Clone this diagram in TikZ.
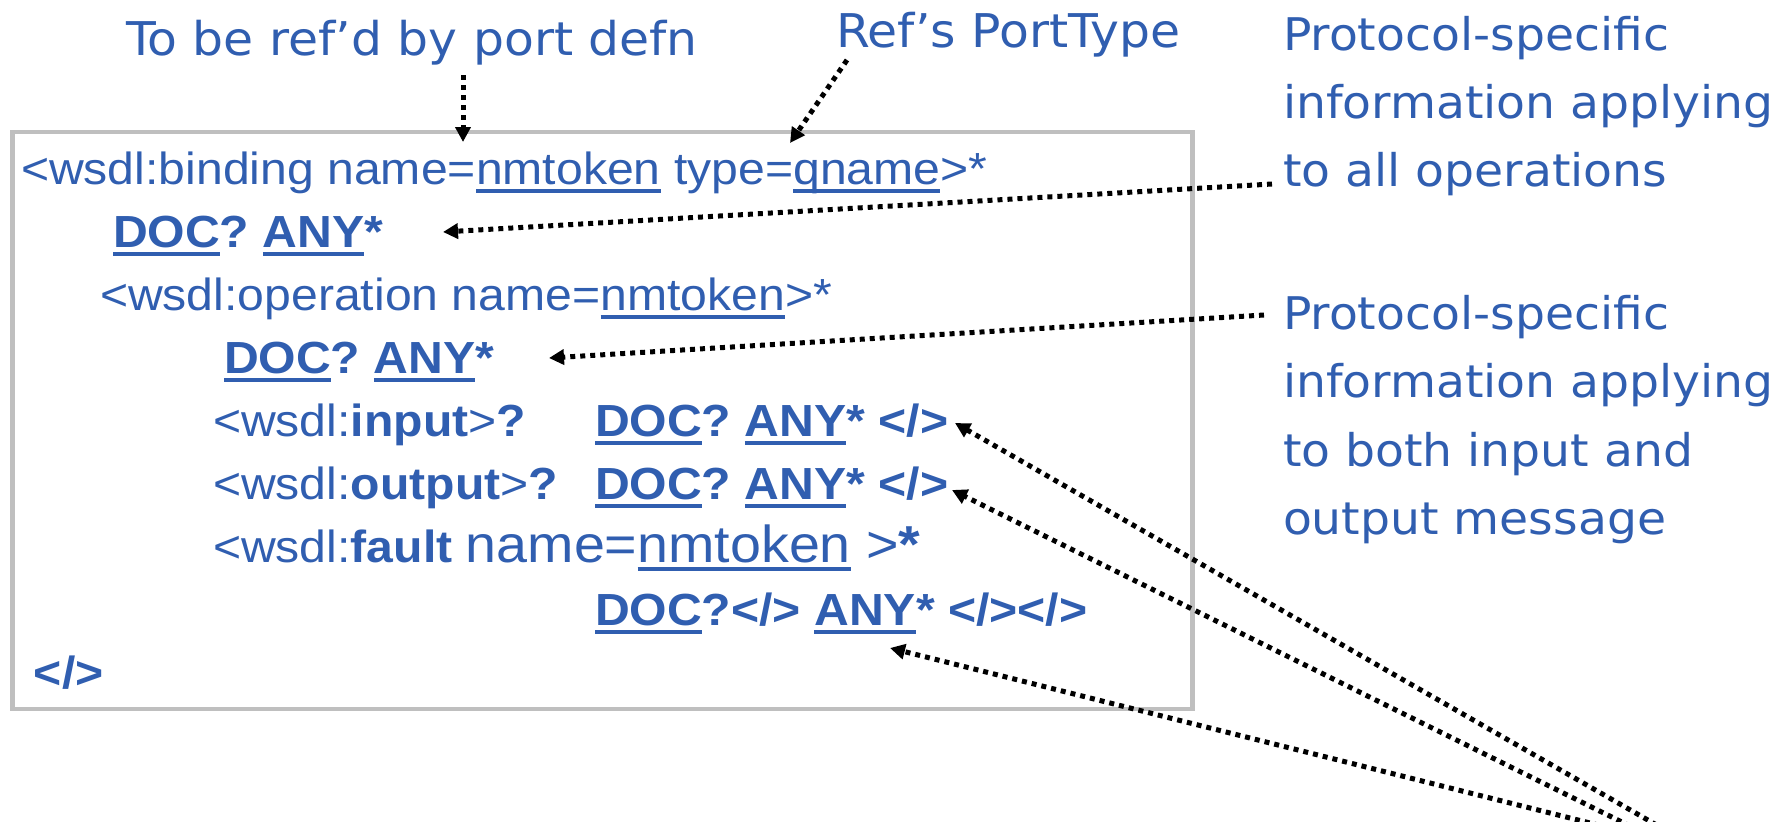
\documentclass[tikz,border=0pt]{standalone}
\usepackage{fontspec}
\setmainfont[FakeStretch=1.07]{Liberation Sans}
\newfontfamily\annfont[FakeStretch=1.05]{DejaVu Sans}
\usetikzlibrary{arrows.meta}
\definecolor{txtblue}{RGB}{48,94,176}
\definecolor{boxgray}{RGB}{191,191,191}
\newcommand\ulx[1]{\setbox0=\hbox{#1}\rlap{\rule[-9pt]{\wd0}{3.6pt}}\box0\relax}
\frenchspacing
\begin{document}
\begin{tikzpicture}[x=1pt,y=-1pt,
  code/.style={anchor=base west,inner sep=0pt,outer sep=0pt,text=txtblue,font=\fontsize{45}{54}\selectfont},
  ann/.style={anchor=base west,inner sep=0pt,outer sep=0pt,text=txtblue,font=\annfont\fontsize{45}{54}\selectfont},
  toplabel/.style={ann,font=\annfont\fontsize{46.5}{54}\selectfont},
  dotarrow/.style={draw=black,line width=5pt,dash pattern=on 5pt off 5pt,-{Triangle[length=15pt,width=15pt]}},
]
\useasboundingbox (0,0) rectangle (1789,822);
% frame
\node[draw=boxgray,line width=4.5pt,inner sep=0pt,outer sep=0pt,minimum width=1180pt,minimum height=577pt,anchor=north west] (box) at (12.5,132) {};
% code lines
\node[code] (l1) at (21,184) {<wsdl:binding name=\ulx{nmtoken} type=\ulx{qname}>*};
\node[code] (l2) at (113,247) {\bfseries\ulx{DOC}? \ulx{ANY}*};
\node[code] (l3) at (100,310) {<wsdl:operation name=\ulx{nmtoken}>*};
\node[code] (l4) at (224,373) {\bfseries\ulx{DOC}? \ulx{ANY}*};
\node[code] (l5) at (213,436) {<wsdl:\textbf{input}>\textbf{?}};
\node[code] (l5b) at (595,436) {\bfseries\ulx{DOC}? \ulx{ANY}* </>};
\node[code] (l6) at (213,499) {<wsdl:\textbf{output}>\textbf{?}};
\node[code] (l6b) at (595,499) {\bfseries\ulx{DOC}? \ulx{ANY}* </>};
\node[code] (l7) at (213,562) {<wsdl:\textbf{fault} {\fontsize{52}{54}\selectfont name=\ulx{nmtoken} >\textbf{*}}};
\node[code] (l8) at (595,625) {\bfseries\ulx{DOC}?</> \ulx{ANY}* </></>};
\node[code] (l9) at (34,688) {\bfseries </>};
% annotations
\node[toplabel] (refd) at (126,55) {To be ref’d by port defn};
\node[toplabel] (refs) at (836,47) {Ref’s PortType};
\node[ann] (p1a) at (1283,50) {Protocol-specific};
\node[ann] (p1b) at (1283,118) {information applying};
\node[ann] (p1c) at (1283,186) {to all operations};
\node[ann] (p2a) at (1283,329) {Protocol-specific};
\node[ann] (p2b) at (1283,397) {information applying};
\node[ann] (p2c) at (1283,466) {to both input and};
\node[ann] (p2d) at (1283,534) {output message};
% arrow coordinates
\coordinate (a1s) at (463,75);   \coordinate (a1t) at (463,142);
\coordinate (a2s) at (847,60);   \coordinate (a2t) at (790,143);
\coordinate (a3s) at (1272,184); \coordinate (a3t) at (443,232);
\coordinate (a4s) at (1264,315); \coordinate (a4t) at (549,358);
\coordinate (a5s) at (1674,835); \coordinate (a5t) at (955,423);
\coordinate (a6s) at (1648,835); \coordinate (a6t) at (952,490);
\coordinate (a7s) at (1638,835); \coordinate (a7t) at (890,648);
\draw[dotarrow] (a1s) -- (a1t);
\draw[dotarrow] (a2s) -- (a2t);
\draw[dotarrow] (a3s) -- (a3t);
\draw[dotarrow] (a4s) -- (a4t);
\draw[dotarrow] (a5s) -- (a5t);
\draw[dotarrow] (a6s) -- (a6t);
\draw[dotarrow] (a7s) -- (a7t);
\end{tikzpicture}
\end{document}
